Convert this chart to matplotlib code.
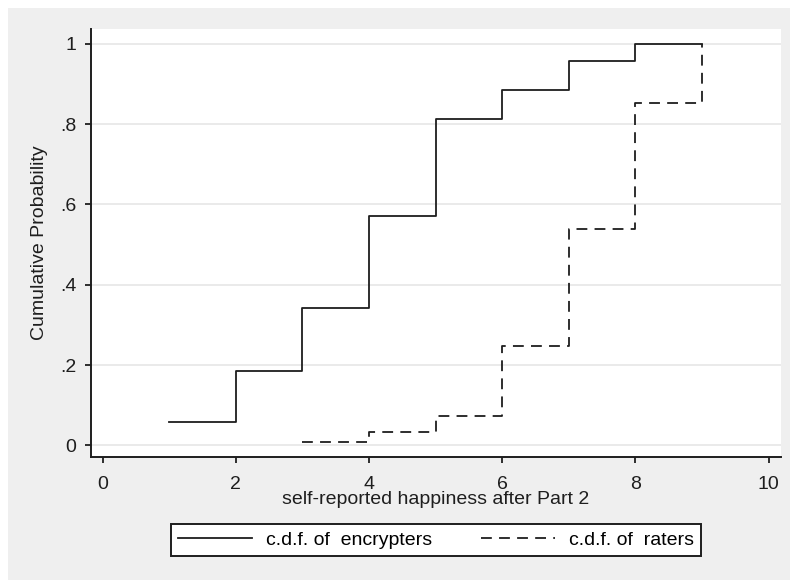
import matplotlib
matplotlib.use('Agg')
import matplotlib.pyplot as plt
from matplotlib.patches import Rectangle

plt.rcParams['font.family'] = ['Liberation Sans', 'DejaVu Sans']

# happiness scores and cumulative probabilities
enc_x = [1, 2, 3, 4, 5, 6, 7, 8, 9]
enc_y = [0.057, 0.186, 0.343, 0.571, 0.814, 0.886, 0.957, 1.0, 1.0]
rat_x = [3, 4, 5, 6, 7, 8, 9]
rat_y = [0.008, 0.034, 0.073, 0.247, 0.539, 0.853, 1.0]

xticks = [0, 2, 4, 6, 8, 10]
yticks = [0, 0.2, 0.4, 0.6, 0.8, 1.0]
ytick_labels = ['0', '.2', '.4', '.6', '.8', '1']

fs = 14

fig = plt.figure(figsize=(7.9, 5.8), dpi=100, facecolor='white')
# stata-like gray graph region
fig.patches.append(Rectangle((8 / 790, 0), 782 / 790, 572 / 580, transform=fig.transFigure,
                             facecolor='#efefef', edgecolor='none', zorder=-10))

ax = fig.add_axes([91 / 790, 1 - 457 / 580, 690 / 790, 428 / 580])
ax.set_facecolor('white')

line_col = '#1e1e1e'
ax.step(enc_x, enc_y, where='post', color=line_col, lw=1.3, label='c.d.f. of  encrypters')
ax.step(rat_x, rat_y, where='post', color=line_col, lw=1.3, linestyle=(0, (6, 4)),
        label='c.d.f. of  raters')

ax.set_xlim(-0.175, 10.185)
ax.set_ylim(-0.029, 1.037)
ax.set_xticks(xticks)
ax.set_yticks(yticks)
ax.set_yticklabels(ytick_labels)
ax.grid(axis='y', color='#e6e6e6', lw=1.2)
ax.set_axisbelow(True)

for s in ['top', 'right']:
    ax.spines[s].set_visible(False)
for s in ['left', 'bottom']:
    ax.spines[s].set_linewidth(1.4)
    ax.spines[s].set_color('#1e1e1e')

ax.tick_params(direction='out', length=4.5, width=1.3, labelsize=fs, colors='#1e1e1e')
ax.tick_params(axis='y', pad=6)
ax.tick_params(axis='x', pad=9)
ax.set_xlabel('self-reported happiness after Part 2', fontsize=fs, labelpad=-1, color='#1e1e1e')
ax.set_ylabel('Cumulative Probability', fontsize=fs, labelpad=9, color='#1e1e1e')

leg = ax.legend(loc='center', bbox_to_anchor=(436 / 790, 1 - 540 / 580),
                bbox_transform=fig.transFigure, ncol=2, fontsize=fs, frameon=True,
                fancybox=False, handlelength=3.8, columnspacing=2.5, borderpad=0.35,
                handletextpad=0.75, borderaxespad=0)
leg.get_frame().set_edgecolor('#1e1e1e')
leg.get_frame().set_linewidth(1.4)
leg.get_frame().set_facecolor('white')
leg.get_frame().set_alpha(1)

fig.savefig('out.png', dpi=100)
